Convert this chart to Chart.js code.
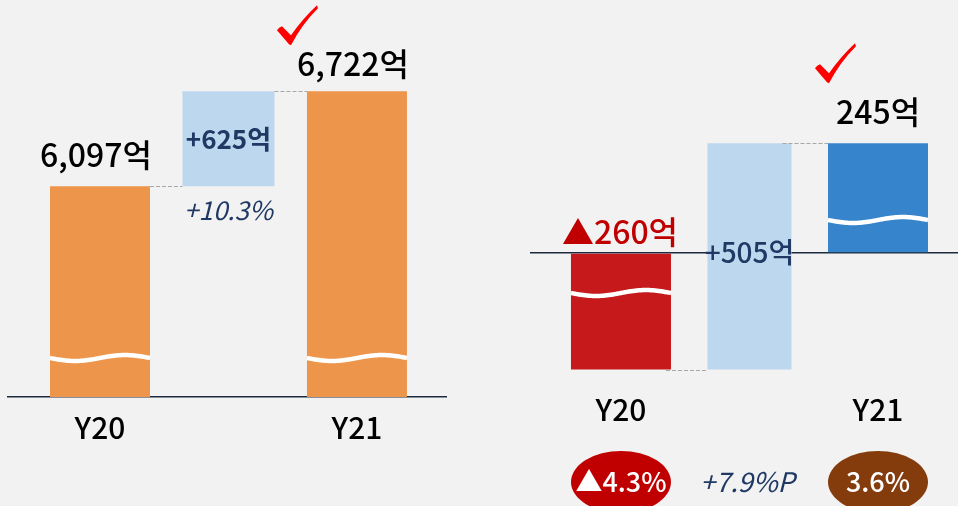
<!DOCTYPE html>
<html>
<head>
<meta charset="utf-8">
<script src="https://cdn.jsdelivr.net/npm/chart.js@4/dist/chart.umd.min.js"></script>
<style>
  html, body { margin: 0; padding: 0; background: #F2F2F2; }
  #wrap { position: relative; width: 958px; height: 506px; overflow: hidden; background: #F2F2F2; }
  canvas { position: absolute; top: 0; }
  #c1 { left: 0; }
  #c2 { left: 480px; }
</style>
</head>
<body>
<div id="wrap">
  <canvas id="c1" width="480" height="506"></canvas>
  <canvas id="c2" width="478" height="506"></canvas>
</div>
<script>
// ---------------- data ----------------
const categories = ['Y20', 'Y21'];
const revenue = [6097, 6722];          // 매출 (억)
const revenueGrowth = [10.3];          // % 증감
const profit = [-260, 245];            // 영업이익 (억)
const margin = [-4.3, 3.6];            // 영업이익률 (%)
const marginChange = [7.9];            // %P
const positions = [0, 1, 2];           // Y20, 증감, Y21 slots

// ---------------- helpers ----------------
const FONT = '"Noto Sans CJK KR", "Noto Sans", sans-serif';
const NAVY = '#1F3864';
const fmtOk = v => (v < 0 ? '▲' : '') + Math.abs(v).toLocaleString('en-US') + '억';
const fmtDelta = v => (v >= 0 ? '+' : '▲') + Math.abs(v).toLocaleString('en-US') + '억';
const fmtPct = v => (v < 0 ? '▲' : '') + Math.abs(v).toFixed(1) + '%';

function drawText(ctx, s, x, y, font, color) {
  ctx.save();
  ctx.font = font; ctx.fillStyle = color;
  ctx.textAlign = 'center'; ctx.textBaseline = 'middle';
  ctx.fillText(s, x, y);
  ctx.restore();
}
function dash(ctx, x1, x2, y) {
  const yy = Math.round(y) + 0.5;
  ctx.save();
  ctx.strokeStyle = '#A6A6A6'; ctx.lineWidth = 1.2; ctx.setLineDash([4, 2]);
  ctx.beginPath(); ctx.moveTo(x1, yy); ctx.lineTo(x2, yy); ctx.stroke();
  ctx.restore();
}
function wave(ctx, el, y) {
  const l = el.x - el.width / 2, w = el.width;
  ctx.save();
  ctx.strokeStyle = '#FFFFFF'; ctx.lineWidth = 4.5;
  ctx.beginPath();
  for (let i = 0; i <= 50; i++) {
    const t = i / 50, px = l + t * w, py = y + 3 * Math.sin(2 * Math.PI * t);
    if (i) ctx.lineTo(px, py); else ctx.moveTo(px, py);
  }
  ctx.stroke();
  ctx.restore();
}
function check(ctx, x, y) {
  ctx.save();
  ctx.translate(x, y);
  ctx.fillStyle = '#FF0000';
  ctx.beginPath();
  ctx.moveTo(0, 25);
  ctx.quadraticCurveTo(2, 22, 5, 21);
  ctx.lineTo(14, 30);
  ctx.quadraticCurveTo(26, 13, 40, 0);
  ctx.lineTo(41, 3);
  ctx.quadraticCurveTo(25, 19, 14, 40);
  ctx.lineTo(12, 39);
  ctx.closePath();
  ctx.fill();
  ctx.restore();
}
function barEls(chart) {
  return chart.data.datasets.map((d, i) => chart.getDatasetMeta(i).data[0]);
}
const barTop = el => Math.min(el.y, el.base);
const barBot = el => Math.max(el.y, el.base);

// ---------------- left: revenue ----------------
const leftDeco = {
  id: 'leftDeco',
  afterDatasetsDraw(chart) {
    const ctx = chart.ctx, ca = chart.chartArea, ys = chart.scales.y;
    const [b0, b1, b2] = barEls(chart);
    wave(ctx, b0, ca.bottom - 39);
    wave(ctx, b2, ca.bottom - 39);
    dash(ctx, b0.x + b0.width / 2, b1.x - b1.width / 2, ys.getPixelForValue(revenue[0]));
    dash(ctx, b1.x + b1.width / 2, b2.x - b2.width / 2, ys.getPixelForValue(revenue[1]));
    drawText(ctx, fmtOk(revenue[0]), b0.x - 4, barTop(b0) - 31, '500 32px ' + FONT, '#000000');
    drawText(ctx, fmtOk(revenue[1]), b2.x - 4, barTop(b2) - 27, '500 32px ' + FONT, '#000000');
    drawText(ctx, fmtDelta(revenue[1] - revenue[0]), b1.x, (barTop(b1) + barBot(b1)) / 2, '700 26px ' + FONT, NAVY);
    drawText(ctx, '+' + revenueGrowth[0].toFixed(1) + '%', b1.x, barBot(b1) + 24, 'italic 400 26px ' + FONT, NAVY);
    check(ctx, b2.x - b2.width / 2 - 30, barTop(b2) - 86);
  }
};

new Chart(document.getElementById('c1'), {
  type: 'bar',
  data: {
    datasets: [
      { label: categories[0], data: [{ x: positions[0], y: revenue[0] }], backgroundColor: '#ED954A',
        grouped: false, categoryPercentage: 1, barPercentage: 100 / 128.5 },
      { label: '증감', data: [{ x: positions[1], y: [revenue[0], revenue[1]] }], backgroundColor: '#BDD7EE',
        grouped: false, categoryPercentage: 1, barPercentage: 92 / 128.5 },
      { label: categories[1], data: [{ x: positions[2], y: revenue[1] }], backgroundColor: '#ED954A',
        grouped: false, categoryPercentage: 1, barPercentage: 100 / 128.5 }
    ]
  },
  options: {
    responsive: false, animation: false, devicePixelRatio: 1,
    layout: { padding: { top: 20, left: 8, right: 34, bottom: 0 } },
    plugins: { legend: { display: false }, tooltip: { enabled: false } },
    scales: {
      x: {
        type: 'linear', min: -0.716, max: 2.693, offset: false,
        grid: { display: false, drawTicks: false },
        border: { display: true, color: '#1C2A3E', width: 1.6 },
        afterBuildTicks: s => { s.ticks = [{ value: positions[0] }, { value: positions[2] }]; },
        afterFit: s => { s.height = 109; },
        ticks: {
          padding: 13, color: '#000000', font: { family: FONT, size: 30, weight: '500' },
          callback: v => (v === positions[0] ? categories[0] : categories[1])
        }
      },
      y: { display: false, min: 4710, max: 7190 }
    }
  },
  plugins: [leftDeco]
});

// ---------------- right: operating profit ----------------
const rightDeco = {
  id: 'rightDeco',
  afterDatasetsDraw(chart) {
    const ctx = chart.ctx, ca = chart.chartArea, ys = chart.scales.y;
    const [b0, b1, b2] = barEls(chart);
    const zero = ys.getPixelForValue(0);
    wave(ctx, b0, zero + 40);
    wave(ctx, b2, zero - 33);
    dash(ctx, b0.x + b0.width / 2 - 5, b1.x - b1.width / 2, ys.getPixelForValue(profit[0]));
    dash(ctx, b1.x + b1.width / 2 - 9, b2.x - b2.width / 2, ys.getPixelForValue(profit[1]));
    drawText(ctx, fmtOk(profit[0]), b0.x - 1, zero - 21, '500 32px ' + FONT, '#C00000');
    drawText(ctx, fmtOk(profit[1]), b2.x, barTop(b2) - 31, '500 32px ' + FONT, '#000000');
    drawText(ctx, fmtDelta(profit[1] - profit[0]), b1.x, (barTop(b1) + barBot(b1)) / 2 - 4, '500 28px ' + FONT, NAVY);
    check(ctx, b2.x - b2.width / 2 - 13, barTop(b2) - 100);
    const yb = ca.bottom + 108;
    const badge = (x, color, s) => {
      ctx.save(); ctx.fillStyle = color;
      ctx.beginPath(); ctx.ellipse(x, yb, 50, 31, 0, 0, Math.PI * 2); ctx.fill(); ctx.restore();
      drawText(ctx, s, x, yb, '500 27px ' + FONT, '#FFFFFF');
    };
    badge(b0.x, '#C00000', fmtPct(margin[0]));
    badge(b2.x, '#843C0C', fmtPct(margin[1]));
    drawText(ctx, '+' + marginChange[0].toFixed(1) + '%P', b1.x - 2, yb, 'italic 400 27px ' + FONT, NAVY);
  }
};

new Chart(document.getElementById('c2'), {
  type: 'bar',
  data: {
    datasets: [
      { label: categories[0], data: [{ x: positions[0], y: profit[0] }], backgroundColor: '#C5191B',
        grouped: false, categoryPercentage: 1, barPercentage: 100 / 128.5 },
      { label: '증감', data: [{ x: positions[1], y: [profit[0], profit[1]] }], backgroundColor: '#BDD7EE',
        grouped: false, categoryPercentage: 1, barPercentage: 84 / 128.5 },
      { label: categories[1], data: [{ x: positions[2], y: profit[1] }], backgroundColor: '#3584CC',
        grouped: false, categoryPercentage: 1, barPercentage: 100 / 128.5 }
    ]
  },
  options: {
    responsive: false, animation: false, devicePixelRatio: 1,
    layout: { padding: { top: 20, left: 50, right: 0, bottom: 0 } },
    plugins: { legend: { display: false }, tooltip: { enabled: false } },
    scales: {
      x: {
        type: 'linear', min: -0.708, max: 2.6226, offset: false,
        grid: { display: false, drawTicks: false },
        border: { display: false },
        afterBuildTicks: s => { s.ticks = [{ value: positions[0] }, { value: positions[2] }]; },
        afterFit: s => { s.height = 132; },
        ticks: {
          padding: 18, color: '#000000', font: { family: FONT, size: 30, weight: '500' },
          callback: v => (v === positions[0] ? categories[0] : categories[1])
        }
      },
      y: {
        min: -270, max: 520,
        border: { display: false },
        grid: { drawTicks: false, lineWidth: 1.6, color: c => (c.tick && c.tick.value === 0 ? '#1C2A3E' : 'rgba(0,0,0,0)') },
        ticks: { display: false },
        afterBuildTicks: s => { s.ticks = [{ value: 0 }]; },
        afterFit: s => { s.width = 0; }
      }
    }
  },
  plugins: [rightDeco]
});
</script>
</body>
</html>
